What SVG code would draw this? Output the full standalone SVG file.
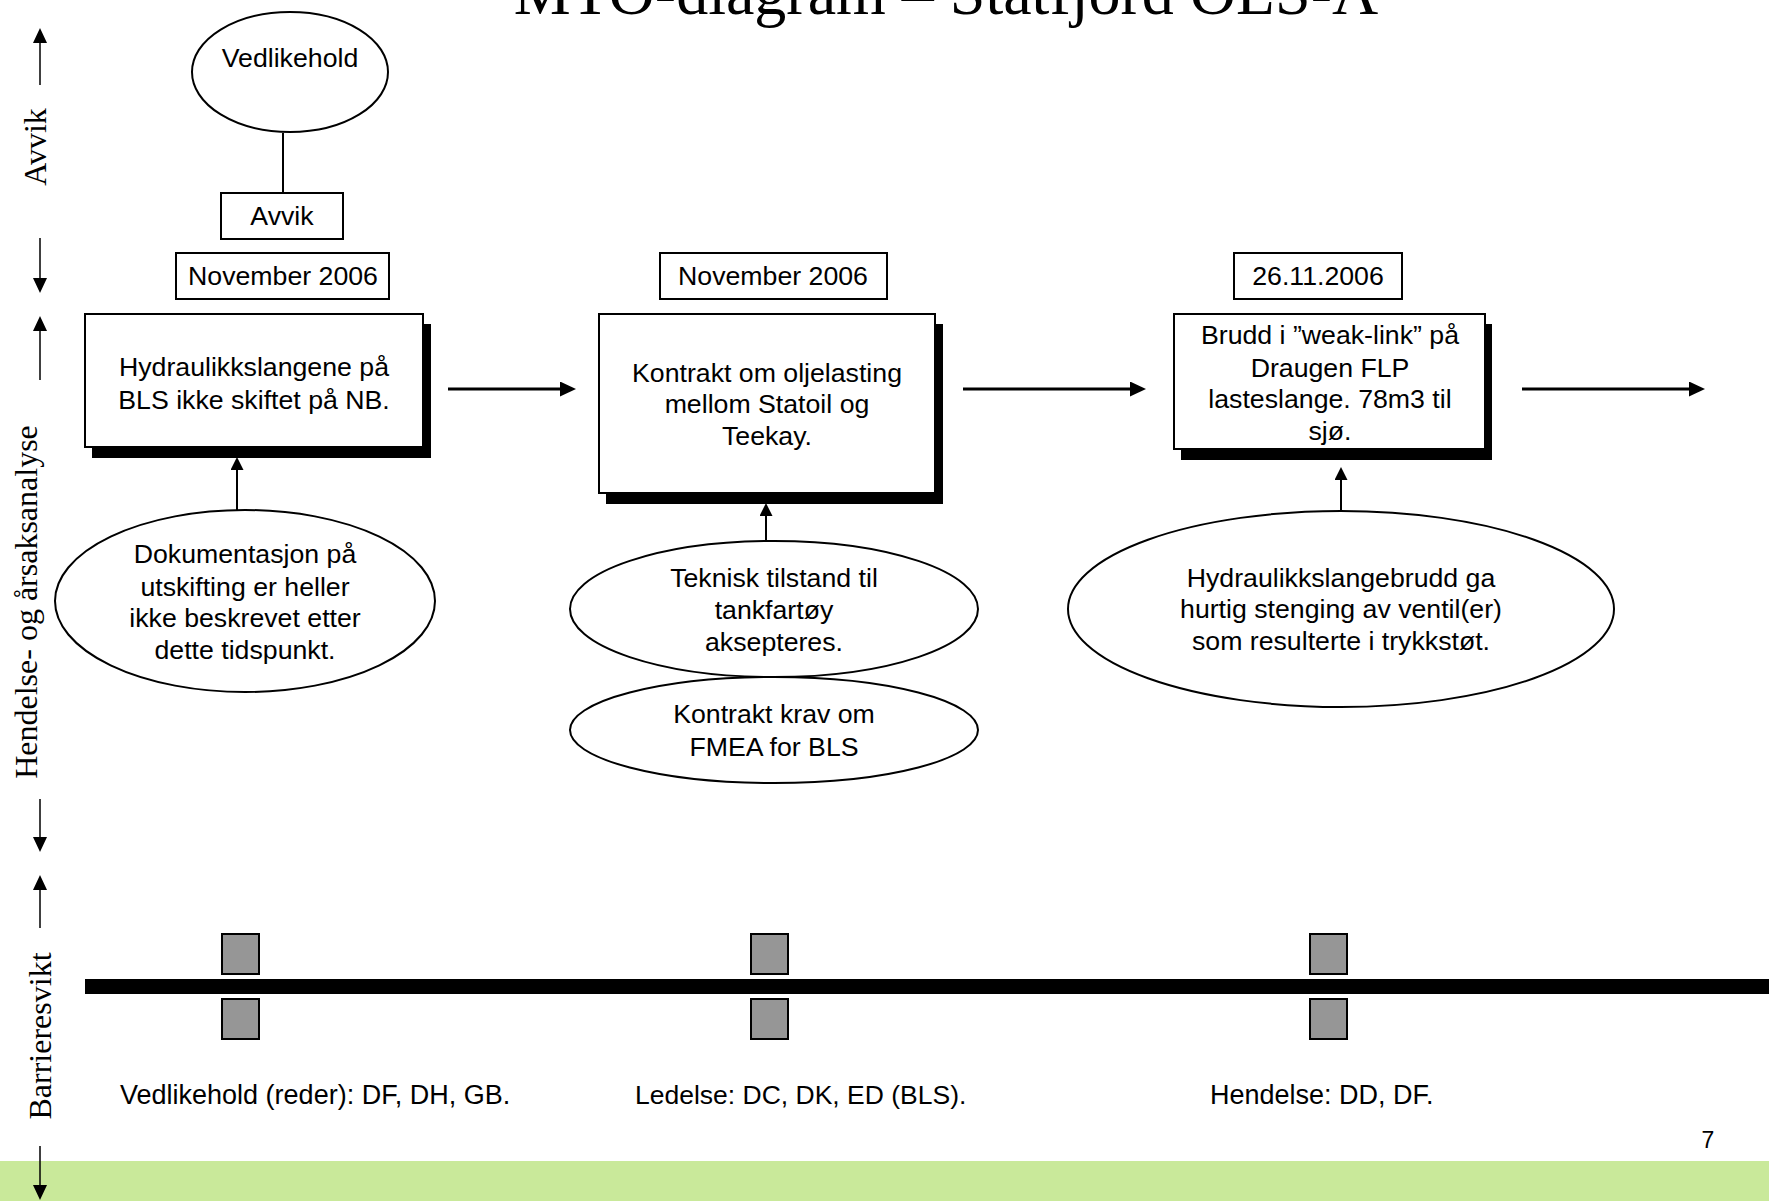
<svg xmlns="http://www.w3.org/2000/svg" width="1769" height="1201" viewBox="0 0 1769 1201">
<style>
.t{font-family:"Liberation Sans",Arial,sans-serif;font-size:26.7px;fill:#000;text-anchor:middle}
.s{font-family:"Liberation Serif","Times New Roman",serif;fill:#000;text-anchor:middle}
.box{fill:#fff;stroke:#000;stroke-width:2}
.sh{fill:#000}
.el{fill:#fff;stroke:#000;stroke-width:2}
.sq{fill:#969696;stroke:#000;stroke-width:2}
.ax{stroke:#000;stroke-width:1.5;fill:none}
.ha{stroke:#000;stroke-width:3;fill:none}
.va{stroke:#000;stroke-width:2;fill:none}
</style>
<defs>
<marker id="hs" markerUnits="userSpaceOnUse" viewBox="0 0 15 14" markerWidth="15" markerHeight="14" refX="0" refY="7" orient="auto"><path d="M0,0 L15,7 L0,14 z" fill="#000"/></marker>
<marker id="hb" markerUnits="userSpaceOnUse" viewBox="0 0 16 15" markerWidth="16" markerHeight="15" refX="0" refY="7.5" orient="auto"><path d="M0,0 L16,7.5 L0,15 z" fill="#000"/></marker>
<marker id="hm" markerUnits="userSpaceOnUse" viewBox="0 0 13 13" markerWidth="13" markerHeight="13" refX="0" refY="6.5" orient="auto"><path d="M0,0 L13,6.5 L0,13 z" fill="#000"/></marker>
</defs>
<rect width="1769" height="1201" fill="#fff"/>
<rect id="footer" x="0" y="1161" width="1769" height="40" fill="#C9E99A"/>
<text id="title" class="s" x="946" y="14" font-size="64">MTO-diagram – Statfjord OLS-A</text>

<g id="side-labels">
<text class="s" font-size="32" transform="translate(46,147) rotate(-90)">Avvik</text>
<text class="s" font-size="32" transform="translate(37,602) rotate(-90)">Hendelse- og årsaksanalyse</text>
<text class="s" font-size="32" transform="translate(51,1036) rotate(-90)">Barrieresvikt</text>
</g>

<g id="connectors">
<line class="ax" x1="40" y1="85" x2="40" y2="43" marker-end="url(#hs)"/>
<line class="ax" x1="40" y1="238" x2="40" y2="278" marker-end="url(#hs)"/>
<line class="ax" x1="40" y1="380" x2="40" y2="331" marker-end="url(#hs)"/>
<line class="ax" x1="40" y1="799" x2="40" y2="837" marker-end="url(#hs)"/>
<line class="ax" x1="40" y1="928" x2="40" y2="890" marker-end="url(#hs)"/>
<line class="ax" x1="40" y1="1146" x2="40" y2="1185" marker-end="url(#hs)"/>
<line stroke="#000" stroke-width="2" x1="283" y1="133" x2="283" y2="193"/>
<line class="ha" x1="448" y1="389" x2="560" y2="389" marker-end="url(#hb)"/>
<line class="ha" x1="963" y1="389" x2="1130" y2="389" marker-end="url(#hb)"/>
<line class="ha" x1="1522" y1="389" x2="1689" y2="389" marker-end="url(#hb)"/>
<line class="va" x1="237" y1="511" x2="237" y2="470" marker-end="url(#hm)"/>
<line class="va" x1="766" y1="541" x2="766" y2="516" marker-end="url(#hm)"/>
<line class="va" x1="1341" y1="511" x2="1341" y2="480" marker-end="url(#hm)"/>
</g>

<g id="vedlikehold">
<ellipse class="el" cx="290" cy="72" rx="98" ry="60"/>
<text class="t" x="290" y="67">Vedlikehold</text>
</g>
<g id="avvik">
<rect class="box" x="221" y="193" width="122" height="46"/>
<text class="t" x="282" y="225">Avvik</text>
</g>
<g id="date1">
<rect class="box" x="176" y="253" width="213" height="46"/>
<text class="t" x="283" y="285">November 2006</text>
</g>
<g id="date2">
<rect class="box" x="660" y="253" width="227" height="46"/>
<text class="t" x="773" y="285">November 2006</text>
</g>
<g id="date3">
<rect class="box" x="1234" y="253" width="168" height="46"/>
<text class="t" x="1318" y="285">26.11.2006</text>
</g>

<g id="event1">
<rect class="sh" x="92" y="324" width="339" height="134"/>
<rect class="box" x="85" y="314" width="338" height="133"/>
<text class="t" x="254" y="376">Hydraulikkslangene på</text>
<text class="t" x="254" y="409">BLS ikke skiftet på NB.</text>
</g>
<g id="event2">
<rect class="sh" x="606" y="324" width="337" height="180"/>
<rect class="box" x="599" y="314" width="336" height="179"/>
<text class="t" x="767" y="382">Kontrakt om oljelasting</text>
<text class="t" x="767" y="413">mellom Statoil og</text>
<text class="t" x="767" y="445">Teekay.</text>
</g>
<g id="event3">
<rect class="sh" x="1181" y="324" width="311" height="136"/>
<rect class="box" x="1174" y="314" width="311" height="135"/>
<text class="t" x="1330" y="344">Brudd i ”weak-link” på</text>
<text class="t" x="1330" y="377">Draugen FLP</text>
<text class="t" x="1330" y="408">lasteslange. 78m3 til</text>
<text class="t" x="1330" y="440">sjø.</text>
</g>

<g id="cause1">
<ellipse class="el" cx="245" cy="601" rx="190" ry="91"/>
<text class="t" x="245" y="563">Dokumentasjon på</text>
<text class="t" x="245" y="596">utskifting er heller</text>
<text class="t" x="245" y="627">ikke beskrevet etter</text>
<text class="t" x="245" y="659">dette tidspunkt.</text>
</g>
<g id="cause2">
<ellipse class="el" cx="774" cy="609" rx="204" ry="68"/>
<text class="t" x="774" y="587">Teknisk tilstand til</text>
<text class="t" x="774" y="619">tankfartøy</text>
<text class="t" x="774" y="651">aksepteres.</text>
</g>
<g id="cause3">
<ellipse class="el" cx="774" cy="730" rx="204" ry="53"/>
<text class="t" x="774" y="723">Kontrakt krav om</text>
<text class="t" x="774" y="756">FMEA for BLS</text>
</g>
<g id="cause4">
<ellipse class="el" cx="1341" cy="609" rx="273" ry="98"/>
<text class="t" x="1341" y="587">Hydraulikkslangebrudd ga</text>
<text class="t" x="1341" y="618">hurtig stenging av ventil(er)</text>
<text class="t" x="1341" y="650">som resulterte i trykkstøt.</text>
</g>

<g id="barrier">
<rect x="85" y="979" width="1684" height="15" fill="#000"/>
<rect class="sq" x="222" y="934" width="37" height="40"/>
<rect class="sq" x="222" y="999" width="37" height="40"/>
<rect class="sq" x="751" y="934" width="37" height="40"/>
<rect class="sq" x="751" y="999" width="37" height="40"/>
<rect class="sq" x="1310" y="934" width="37" height="40"/>
<rect class="sq" x="1310" y="999" width="37" height="40"/>
</g>
<g id="barrier-labels">
<text class="t" style="text-anchor:start;font-size:27px" x="120" y="1104">Vedlikehold (reder): DF, DH, GB.</text>
<text class="t" style="text-anchor:start;font-size:26.5px" x="635" y="1104">Ledelse: DC, DK, ED (BLS).</text>
<text class="t" style="text-anchor:start;font-size:27px" x="1210" y="1104">Hendelse: DD, DF.</text>
</g>
<text id="page" class="t" x="1708" y="1148" style="font-size:23px">7</text>
</svg>
